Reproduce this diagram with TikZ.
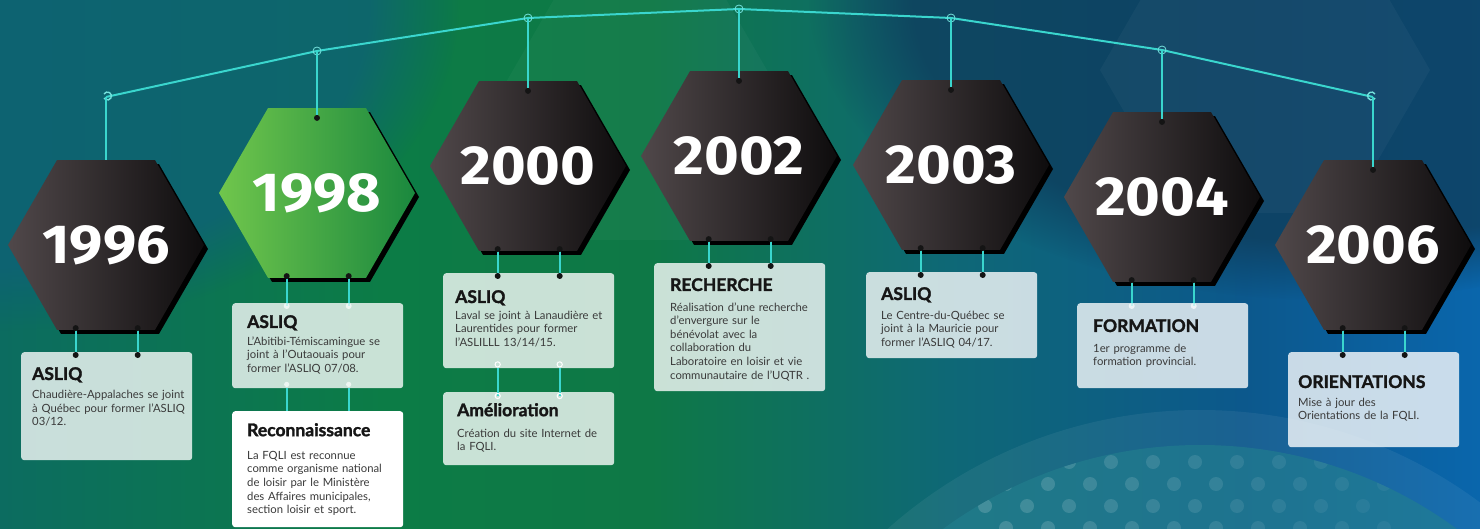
\documentclass[tikz,border=0pt]{standalone}
\usepackage{fontspec}
\usepackage{graphicx}
\setmainfont{Lato}[BoldFeatures={FakeBold=1.6}]
\newfontfamily\yearfont{Fira Sans}
\usetikzlibrary{shapes.geometric,fadings}
\definecolor{bg0}{RGB}{12,108,96}
\definecolor{bg1}{RGB}{12,124,70}
\definecolor{bg2}{RGB}{14,120,70}
\definecolor{bg3}{RGB}{14,104,118}
\definecolor{bg4}{RGB}{12,88,140}
\definecolor{bg5}{RGB}{10,102,172}
\definecolor{wirec}{RGB}{58,214,206}
\definecolor{hexL}{RGB}{80,72,74}
\definecolor{hexR}{RGB}{14,12,13}
\definecolor{greenL}{RGB}{112,198,76}
\definecolor{greenR}{RGB}{26,136,62}
\definecolor{titlec}{RGB}{22,22,22}
\definecolor{bodyc}{RGB}{58,58,58}
\definecolor{topl}{RGB}{14,96,120}
\definecolor{topr}{RGB}{14,62,92}
\definecolor{blobc}{RGB}{34,128,142}
\definecolor{holec}{RGB}{20,20,20}
\pgfdeclarehorizontalshading{bgshade}{100bp}{color(0bp)=(bg0); color(25bp)=(bg0); color(38bp)=(bg1); color(47bp)=(bg2); color(57bp)=(bg3); color(67bp)=(bg4); color(75bp)=(bg5); color(100bp)=(bg5)}
\newcommand\ttl[1]{{\fontsize{17.5}{19}\selectfont\bfseries\color{titlec}#1}}
\newcommand\yrtext[1]{\makebox[0pt]{\scalebox{1.08}[1]{#1}}}
\begin{document}
\begin{tikzpicture}[x=1pt,y=-1pt,
  hexbase/.style={regular polygon, regular polygon sides=6, minimum size=196pt, inner sep=0pt, text=white, font={\yearfont\bfseries\fontsize{55}{60}\selectfont}},
  hexdark/.style={hexbase, left color=hexL, right color=hexR},
  hexgreen/.style={hexbase, left color=greenL, right color=greenR},
  hexshadow/.style={hexbase, fill=black},
  card/.style={fill=white, fill opacity=0.78, rounded corners=3pt, minimum width=171pt, inner sep=0pt, anchor=north west},
  cardw/.style={card, fill opacity=1},
  ctext/.style={anchor=north west, inner sep=0pt, text width=165pt, align=left, text=bodyc, font={\fontsize{11.3}{13.6}\selectfont}},
  wire/.style={draw=wirec, line width=2pt, line join=round},
  hanger/.style={draw=wirec, line width=1.6pt},
  link/.style={draw=wirec, line width=2pt},
  ring/.style={draw=wirec!70!white, line width=0.8pt}
]
\useasboundingbox (0,0) rectangle (1480,529);
% background
\shade[shading=bgshade] (0,0) rectangle (1480,529);
\fill[topl, opacity=0.75, path fading=circle with fuzzy edge 20 percent] (0,0) ellipse [x radius=460pt, y radius=330pt];
\fill[topr, opacity=0.8, path fading=circle with fuzzy edge 20 percent] (1330,0) ellipse [x radius=520pt, y radius=300pt];
\node[regular polygon, regular polygon sides=6, minimum size=330pt, fill=white, opacity=0.035] (bgh1) at (1265,70) {};
\node[regular polygon, regular polygon sides=6, minimum size=300pt, fill=white, opacity=0.03] (bgh2) at (640,110) {};
\fill[white, opacity=0.06] (1200,880) circle (470pt);
\fill[blobc, opacity=0.6] (1200,880) circle (435pt);
\begin{scope}
  \clip (1200,880) circle (435pt);
  \foreach \r in {0,...,3}{
    \foreach \c in {0,...,9}{
      \fill[white, opacity={0.16-0.012*\c}] ({985+42*\c+21*mod(\r,2)},{462+22*\r}) circle (7pt);
    }
  }
\end{scope}
% wire
\coordinate (k1) at (106,97);
\coordinate (r2) at (317,51);
\coordinate (r3) at (528,18);
\coordinate (r4) at (739,9);
\coordinate (r5) at (951,18);
\coordinate (r6) at (1162,50);
\coordinate (k7) at (1373,97);
\draw[wire] (k1) -- (r2) -- (r3) -- (r4) -- (r5) -- (r6) -- (k7);
\foreach \p in {r2,r3,r4,r5,r6}{\draw[ring] (\p) circle (4pt);}
\draw[ring, line width=1.4pt] ([shift={(-2,-3)}]k1) arc[start angle=150, end angle=-150, radius=4pt];
\draw[ring, line width=1.4pt] ([shift={(2,-3)}]k7) arc[start angle=30, end angle=330, radius=4pt];
% hexagons
\foreach \i/\cx/\cy/\yr/\st in {1/106/245/1996/hexdark, 2/317/193/1998/hexgreen, 3/528/166/2000/hexdark, 4/739/156/2002/hexdark, 5/951/165/2003/hexdark, 6/1162/197/2004/hexdark, 7/1373/245/2006/hexdark}{
  \node[hexshadow] (s\i) at (\cx+4,\cy+4) {};
  \node[\st] (h\i) at (\cx,\cy) {\yrtext{\yr}};
}
% hangers
\draw[hanger] (k1) -- (h1.north);
\foreach \i/\p in {2/r2,3/r3,4/r4,5/r5,6/r6,7/k7}{
  \coordinate (p\i) at ([yshift=-10pt]h\i.north);
  \draw[hanger] (\p) -- (p\i);
  \fill[holec] (p\i) circle (3pt);
}
% cards
\node[card, minimum height=108pt] (c1) at (21,352) {};
\node[card, minimum height=85pt] (c2) at (232,303) {};
\node[cardw, minimum height=116pt] (c2b) at (232,411) {};
\node[card, minimum height=95pt] (c3) at (443,273) {};
\node[card, minimum height=73pt] (c3b) at (443,392) {};
\node[card, minimum height=128pt] (c4) at (654,263) {};
\node[card, minimum height=86pt] (c5) at (866,272) {};
\node[card, minimum height=85pt] (c6) at (1077,303) {};
\node[card, minimum height=95pt] (c7) at (1288,352) {};
% connectors hex -> card
\foreach \i in {1,...,7}{
  \coordinate (da\i) at ([shift={(-31,3)}]c\i.north);
  \coordinate (db\i) at ([shift={(31,3)}]c\i.north);
  \coordinate (ea\i) at (h\i.south -| da\i);
  \coordinate (eb\i) at (h\i.south -| db\i);
  \draw[link] (ea\i) -- (da\i);
  \draw[link] (eb\i) -- (db\i);
  \fill[holec] ([yshift=2pt]ea\i) circle (3pt);
  \fill[holec] ([yshift=2pt]eb\i) circle (3pt);
}
% connectors card -> card
\draw[link] (c2.south -| da2) -- (c2b.north -| da2);
\draw[link] (c2.south -| db2) -- (c2b.north -| db2);
\draw[link] (c3.south -| da3) -- ([yshift=-4pt]c3b.north -| da3);
\draw[link] (c3.south -| db3) -- ([yshift=-4pt]c3b.north -| db3);
% holes on cards
\foreach \i in {1,3,4,5,7}{
  \fill[holec] (da\i) circle (3pt);
  \fill[holec] (db\i) circle (3pt);
}
\foreach \i in {2,6}{
  \fill[white, opacity=0.7] (da\i) circle (3pt);
  \fill[white, opacity=0.7] (db\i) circle (3pt);
}
\foreach \q in {da2,db2}{
  \fill[white, opacity=0.7] ([yshift=4pt]c2.south -| \q) circle (2.6pt);
}
\foreach \q in {da3,db3}{
  \draw[white, line width=1pt] ([yshift=4pt]c3.south -| \q) circle (2.6pt);
  \draw[white, line width=1pt] ([yshift=-4pt]c3b.north -| \q) circle (2.6pt);
}
% texts
\node[ctext] (t1) at ([shift={(11,15)}]c1.north west) {\ttl{ASLIQ}\\[5pt]Chaudière-Appalaches se joint\\à Québec pour former l’ASLIQ\\03/12.};
\node[ctext] (t2) at ([shift={(15,12)}]c2.north west) {\ttl{ASLIQ}\\[3.5pt]L’Abitibi-Témiscamingue se\\joint à l’Outaouais pour\\former l’ASLIQ 07/08.};
\node[ctext] (t2b) at ([shift={(15,12)}]c2b.north west) {\ttl{Reconnaissance}\\[9.5pt]La FQLI est reconnue\\comme organisme national\\de loisir par le Ministère\\des Affaires municipales,\\section loisir et sport.};
\node[ctext] (t3) at ([shift={(12,17)}]c3.north west) {\ttl{ASLIQ}\\[2.5pt]Laval se joint à Lanaudière et\\Laurentides pour former\\l’ASLILLL 13/14/15.};
\node[ctext] (t3b) at ([shift={(14,11)}]c3b.north west) {\ttl{Amélioration}\\[7.5pt]Création du site Internet de\\la FQLI.};
\node[ctext] (t4) at ([shift={(16,15)}]c4.north west) {\ttl{RECHERCHE}\\[6.5pt]Réalisation d’une recherche\\d’envergure sur le\\bénévolat avec la\\collaboration du\\Laboratoire en loisir et vie\\communautaire de l’UQTR .};
\node[ctext] (t5) at ([shift={(15,15)}]c5.north west) {\ttl{ASLIQ}\\[5.5pt]Le Centre-du-Québec se\\joint à la Mauricie pour\\former l’ASLIQ 04/17.};
\node[ctext] (t6) at ([shift={(16,16)}]c6.north west) {\ttl{FORMATION}\\[6.5pt]1er programme de\\formation provincial.};
\node[ctext] (t7) at ([shift={(10,23)}]c7.north west) {\ttl{ORIENTATIONS}\\[4.5pt]Mise à jour des\\Orientations de la FQLI.};
\end{tikzpicture}
\end{document}
